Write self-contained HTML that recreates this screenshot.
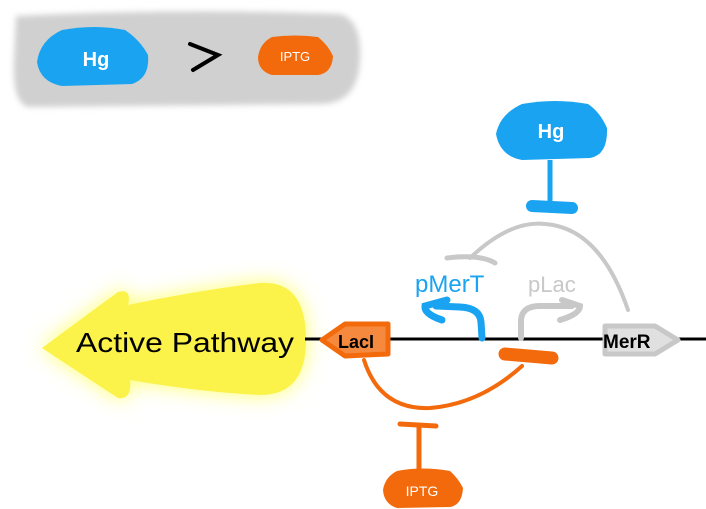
<!DOCTYPE html>
<html><head><meta charset="utf-8"><style>
html,body{margin:0;padding:0;background:#fff;width:706px;height:509px;overflow:hidden}
svg{display:block}
text{font-family:"Liberation Sans",sans-serif}
</style></head><body>
<svg width="706" height="509" viewBox="0 0 706 509" xmlns="http://www.w3.org/2000/svg">
<defs>
<filter id="b" x="-20%" y="-30%" width="140%" height="160%"><feGaussianBlur stdDeviation="3"/></filter>
<filter id="g" x="-30%" y="-50%" width="160%" height="200%"><feGaussianBlur stdDeviation="10"/></filter>
</defs>
<!-- legend box -->
<path d="M16,16 Q180,8 340,14 Q362,20 360,60 Q358,104 320,104 L30,107 Q12,106 14,60 Z" fill="#d0d0d0" filter="url(#b)"/>
<path d="M62,30 Q95,24 125,30 Q140,40 148,55 Q150,78 132,84 L62,86 Q40,82 37,62 Q40,40 62,30Z" fill="#1aa3f0"/>
<text x="96" y="66" fill="#fff" font-size="20" font-weight="bold" text-anchor="middle">Hg</text>
<path d="M190,44 L218,55 L193,70" fill="none" stroke="#000" stroke-width="4" stroke-linecap="round"/>
<path d="M272,37 Q295,34 318,37 Q328,45 333,56 Q332,73 318,75 L272,75 Q258,71 258,57 Q260,43 272,37Z" fill="#f26a0c"/>
<text x="295" y="61" fill="#fff" font-size="13" text-anchor="middle">IPTG</text>
<!-- yellow arrow -->
<path d="M42,348 L118,292 Q132,288 128,305 Q200,290 260,283 Q306,280 306,340 Q306,395 260,395 Q200,392 130,380 Q132,400 118,398 Z" fill="#ffff70" filter="url(#g)"/>
<path d="M42,348 L118,292 Q132,288 128,305 Q200,290 260,283 Q306,280 306,340 Q306,395 260,395 Q200,392 130,380 Q132,400 118,398 Z" fill="#fbf24a"/>
<text x="76" y="352" font-size="28" fill="#000" font-family="DejaVu Sans,sans-serif" textLength="218" lengthAdjust="spacingAndGlyphs">Active Pathway</text>
<!-- DNA -->
<line x1="305" y1="339" x2="706" y2="339" stroke="#000" stroke-width="3"/>
<!-- gray arc -->
<path d="M470,258 Q510,220 545,224 Q600,228 628,310" fill="none" stroke="#c8c8c8" stroke-width="4" stroke-linecap="round"/>
<path d="M447,258 Q480,254 495,263" fill="none" stroke="#c8c8c8" stroke-width="5" stroke-linecap="round"/>
<!-- Hg top -->
<path d="M522,104 Q555,98 588,104 Q600,112 607,128 Q608,155 590,158 L522,160 Q500,156 496,134 Q500,114 522,104Z" fill="#1aa3f0"/>
<text x="551" y="138" fill="#fff" font-size="20" font-weight="bold" text-anchor="middle">Hg</text>
<line x1="550" y1="160" x2="550" y2="203" stroke="#1aa3f0" stroke-width="5"/>
<line x1="532" y1="206" x2="572" y2="208" stroke="#1aa3f0" stroke-width="12" stroke-linecap="round"/>
<!-- pMerT / pLac -->
<text x="415" y="292" fill="#1aa3f0" font-size="24">pMerT</text>
<text x="528" y="292" fill="#c8c8c8" font-size="22">pLac</text>
<path d="M482,338 L481,322 Q480,308 460,307 L436,306" fill="none" stroke="#1aa3f0" stroke-width="7" stroke-linecap="round"/>
<path d="M447,300 L425,306 Q424,314 442,320" fill="none" stroke="#1aa3f0" stroke-width="7" stroke-linecap="round"/>
<path d="M521,338 L521,320 Q522,306 540,306 L572,306" fill="none" stroke="#c8c8c8" stroke-width="6" stroke-linecap="round"/>
<path d="M562,300 L580,306 Q580,314 560,320" fill="none" stroke="#c8c8c8" stroke-width="6" stroke-linecap="round"/>
<!-- LacI -->
<path d="M322,340 L345,324 L388,324 L388,354 L345,356 Z" fill="#f58a3f" stroke="#f26a0c" stroke-width="5" stroke-linejoin="round"/>
<text x="338" y="348" font-size="18" fill="#000" font-weight="bold">LacI</text>
<!-- MerR -->
<path d="M605,326 L655,326 L678,340 L655,354 L605,354 Z" fill="#e0e0e0" stroke="#c8c8c8" stroke-width="5" stroke-linejoin="round"/>
<text x="603" y="348" font-size="19" fill="#000" font-weight="bold">MerR</text>
<!-- orange repression -->
<line x1="505" y1="354" x2="552" y2="358" stroke="#f26a0c" stroke-width="13" stroke-linecap="round"/>
<path d="M364,360 Q380,410 430,408 Q480,404 522,366" fill="none" stroke="#f26a0c" stroke-width="4" stroke-linecap="round"/>
<line x1="400" y1="424" x2="436" y2="426" stroke="#f26a0c" stroke-width="5" stroke-linecap="round"/>
<line x1="419" y1="426" x2="419" y2="470" stroke="#f26a0c" stroke-width="5"/>
<path d="M397,471 Q422,466 450,471 Q458,478 463,488 Q462,505 450,507 L397,508 Q384,504 383,490 Q385,477 397,471Z" fill="#f26a0c"/>
<text x="422" y="496" fill="#fff" font-size="14" text-anchor="middle">IPTG</text>
</svg>
</body></html>
